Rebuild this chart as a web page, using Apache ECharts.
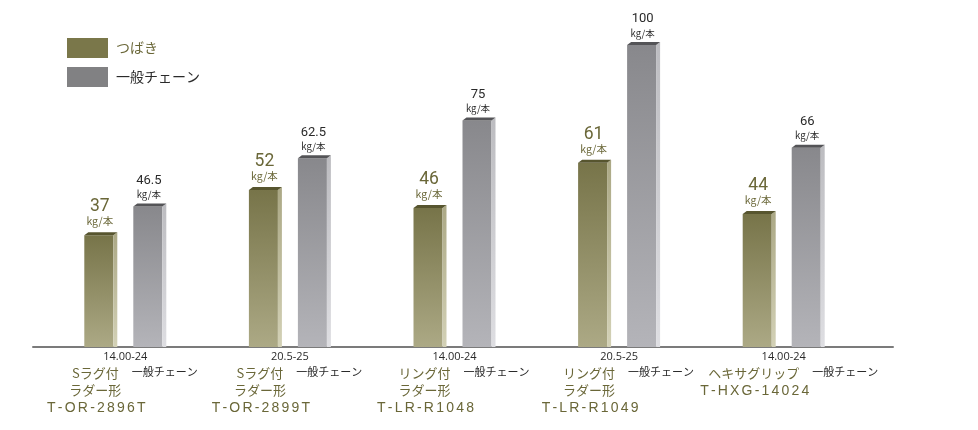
<!DOCTYPE html>
<html>
<head>
<meta charset="utf-8">
<script src="https://cdn.jsdelivr.net/npm/echarts@6/dist/echarts.min.js"></script>
<style>
html,body{margin:0;padding:0;background:#fff;}
#chart{width:978px;height:430px;}
</style>
</head>
<body>
<div id="chart"></div>
<script>
// ---- data ----
const sizeLabels = ['14.00-24', '20.5-25', '14.00-24', '20.5-25', '14.00-24'];
const productNames = [
  ['Sラグ付', 'ラダー形', 'T-OR-2896T'],
  ['Sラグ付', 'ラダー形', 'T-OR-2899T'],
  ['リング付', 'ラダー形', 'T-LR-R1048'],
  ['リング付', 'ラダー形', 'T-LR-R1049'],
  ['ヘキサグリップ', 'T-HXG-14024']
];
const seriesNames = ['つばき', '一般チェーン'];
const tsubakiValues = [37, 52, 46, 61, 44];
const generalValues = [46.5, 62.5, 75, 100, 66];
const unitLabel = 'kg/本';

// ---- styles ----
const OLIVE_TEXT = '#6a6738';
const DARK_TEXT = '#2a2a2a';
const JP_FONT = '"Noto Sans CJK JP", "Noto Sans", sans-serif';
const NUM_FONT = 'Roboto, "Liberation Sans", sans-serif';
const CODE_FONT = '"Liberation Sans", Arial, sans-serif';
const CODE_TRACKING = 2.2;

const measureCtx = document.createElement('canvas').getContext('2d');
function textWidth(t, size, family) {
  measureCtx.font = size + 'px ' + family;
  return measureCtx.measureText(t).width;
}
// wider tracking for the product-code lines (text style only)
const codeSet = {};
productNames.forEach(function (p) { codeSet[p[p.length - 1]] = true; });
(function () {
  const proto = CanvasRenderingContext2D.prototype;
  const origFill = proto.fillText;
  proto.fillText = function (t, x, y) {
    if (!codeSet[t]) return origFill.apply(this, arguments);
    const chars = Array.from(t);
    const ws = chars.map(function (ch) { return this.measureText(ch).width; }, this);
    const total = ws.reduce(function (a, b) { return a + b; }, 0) + CODE_TRACKING * (chars.length - 1);
    const al = this.textAlign;
    let sx = x;
    if (al === 'center') sx = x - total / 2;
    else if (al === 'right' || al === 'end') sx = x - total;
    this.textAlign = 'left';
    for (let i = 0; i < chars.length; i++) {
      origFill.call(this, chars[i], sx, y);
      sx += ws[i] + CODE_TRACKING;
    }
    this.textAlign = al;
  };
})();

const G = echarts.graphic;
function makeRender(kind) {
  const isT = kind === 't';
  const frontGrad = isT
    ? [{offset: 0, color: '#777449'}, {offset: 1, color: '#aca985'}]
    : [{offset: 0, color: '#88888c'}, {offset: 1, color: '#b4b4b9'}];
  const sideGrad = isT
    ? [{offset: 0, color: '#aba885'}, {offset: 1, color: '#d3d1b6'}]
    : [{offset: 0, color: '#bcbcc0'}, {offset: 1, color: '#dedee2'}];
  const topColor = isT ? '#57552f' : '#545457';
  return function (params, api) {
    const idx = api.value(0);
    const val = api.value(1);
    const base = api.coord([idx, 0]);
    const top = api.coord([idx, val]);
    const c = base[0];
    const fw = 29, sw = 4, td = 3;
    const x = isT ? c - 41 : c + 8;
    const yt = top[1], yb = base[1];
    const children = [
      {type: 'rect', shape: {x: x, y: yt, width: fw, height: yb - yt},
       style: {fill: new G.LinearGradient(0, 0, 0, 1, frontGrad)}},
      {type: 'polygon', shape: {points: [[x + fw, yt], [x + fw + sw, yt - td], [x + fw + sw, yb], [x + fw, yb]]},
       style: {fill: new G.LinearGradient(0, 0, 0, 1, sideGrad)}},
      {type: 'polygon', shape: {points: [[x, yt], [x + sw, yt - td], [x + fw + sw, yt - td], [x + fw, yt]]},
       style: {fill: topColor}},
      {type: 'text', x: x + fw / 2 + 1, y: yt - (isT ? 28.5 : 26),
       style: {text: String(val), fill: isT ? OLIVE_TEXT : DARK_TEXT,
               fontSize: isT ? 17.5 : 13, fontFamily: NUM_FONT,
               align: 'center', verticalAlign: 'middle'}},
      {type: 'text', x: x + fw / 2 + 1, y: yt - (isT ? 14 : 12),
       style: {text: unitLabel, fill: isT ? OLIVE_TEXT : DARK_TEXT,
               fontSize: isT ? 10.5 : 9.5, fontFamily: JP_FONT,
               align: 'center', verticalAlign: 'middle'}}
    ];
    if (isT) {
      const names = productNames[idx];
      const oc = c - 30;
      const lineYs = names.length === 3 ? [26, 43, 61] : [26, 44];
      names.forEach(function (n, k) {
        const isCode = k === names.length - 1;
        children.push({type: 'text', x: oc + (isCode ? 1 : 0), y: yb + lineYs[k],
          style: {text: n, fill: OLIVE_TEXT,
                  fontSize: isCode ? 14 : 13,
                  fontFamily: isCode ? CODE_FONT : JP_FONT,
                  align: 'center', verticalAlign: 'middle'}});
      });
      const w1 = textWidth(names[0], 13, JP_FONT);
      children.push({type: 'text', x: oc + w1 / 2 + 13, y: yb + 25,
        style: {text: seriesNames[1], fill: DARK_TEXT, fontSize: 11, fontFamily: JP_FONT,
                align: 'left', verticalAlign: 'middle'}});
    }
    return {type: 'group', children: children};
  };
}

const chart = echarts.init(document.getElementById('chart'), null, {renderer: 'canvas'});
chart.setOption({
  animation: false,
  backgroundColor: '#ffffff',
  legend: {
    orient: 'vertical', left: 67, top: 38, padding: 0,
    itemWidth: 41, itemHeight: 20, itemGap: 9,
    icon: 'rect',
    data: [
      {name: seriesNames[0], textStyle: {color: OLIVE_TEXT}},
      {name: seriesNames[1], textStyle: {color: DARK_TEXT}}
    ],
    textStyle: {fontSize: 14, fontFamily: JP_FONT, padding: [0, 0, 0, 3]}
  },
  grid: [
    {left: 43, right: 112, top: 45, bottom: 83},
    {left: 33, right: 85, top: 45, bottom: 83}
  ],
  xAxis: [
    {type: 'category', gridIndex: 0, data: sizeLabels,
     axisLine: {show: false}, axisTick: {show: false},
     axisLabel: {color: DARK_TEXT, fontSize: 11, fontFamily: '"Open Sans", sans-serif', margin: 4, interval: 0},
     splitLine: {show: false}},
    {type: 'value', gridIndex: 1, min: 0, max: 1,
     axisLine: {show: true, lineStyle: {color: '#7b7b7b', width: 2}},
     axisTick: {show: false}, axisLabel: {show: false}, splitLine: {show: false}}
  ],
  yAxis: [
    {type: 'value', gridIndex: 0, min: 0, max: 100, show: false},
    {type: 'value', gridIndex: 1, min: 0, max: 1, show: false}
  ],
  series: [
    {name: seriesNames[0], type: 'custom', xAxisIndex: 0, yAxisIndex: 0,
     itemStyle: {color: '#7a774a'},
     renderItem: makeRender('t'),
     encode: {x: 0, y: 1},
     data: tsubakiValues.map(function (v, i) { return [i, v]; })},
    {name: seriesNames[1], type: 'custom', xAxisIndex: 0, yAxisIndex: 0,
     itemStyle: {color: '#818183'},
     renderItem: makeRender('g'),
     encode: {x: 0, y: 1},
     data: generalValues.map(function (v, i) { return [i, v]; })}
  ]
});
</script>
</body>
</html>
